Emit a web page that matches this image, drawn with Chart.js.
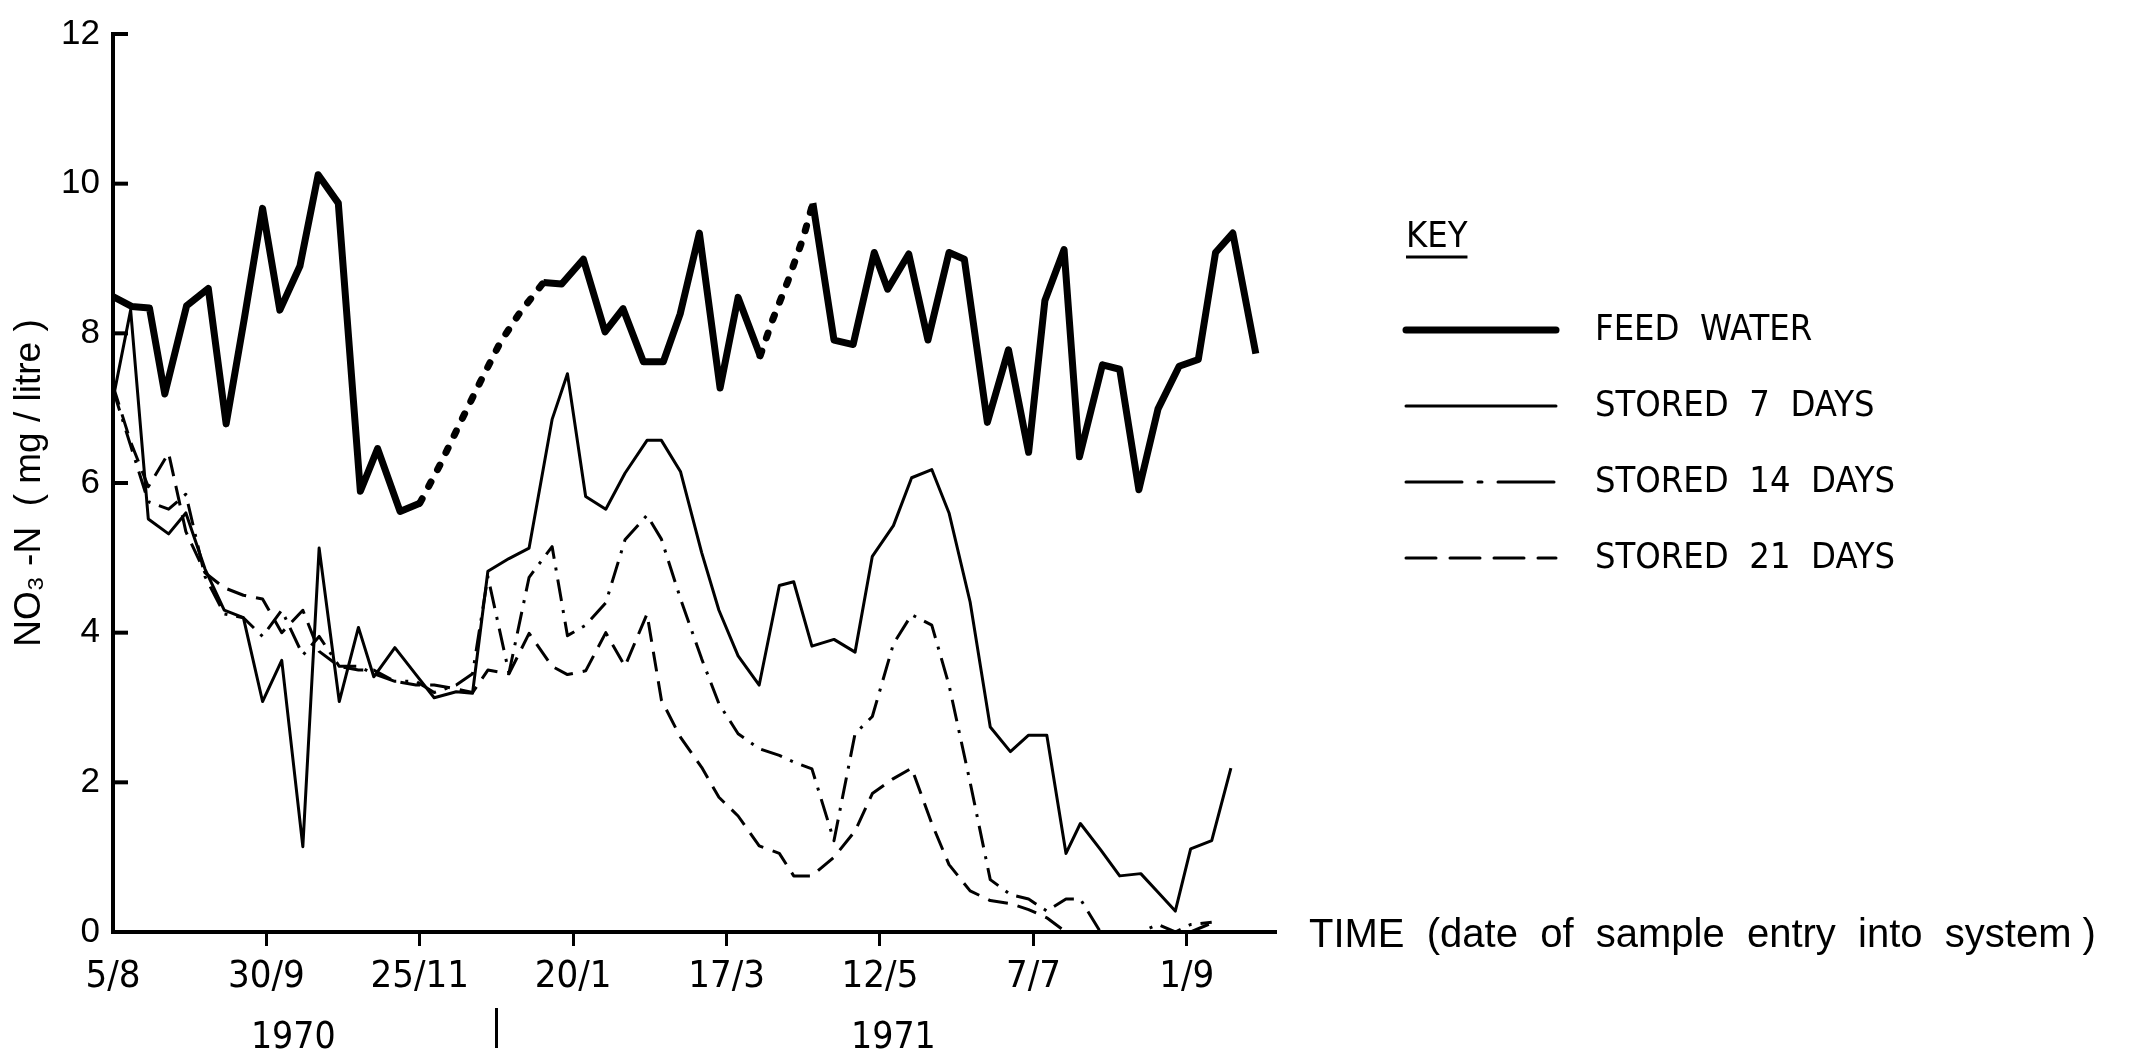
<!DOCTYPE html>
<html>
<head>
<meta charset="utf-8">
<script src="https://cdn.jsdelivr.net/npm/chart.js@4.4.1/dist/chart.umd.min.js"></script>
<style>
  html, body { margin: 0; padding: 0; background: #fff; }
  canvas { display: block; }
</style>
</head>
<body>
<canvas id="nitrateChart" width="2134" height="1055"></canvas>
<script>
// x values are weeks after 5/8/1970 (date of sample entry)
var tickWeeks = [0, 8, 16, 24, 32, 40, 48, 56];
var tickLabels = ['5/8', '30/9', '25/11', '20/1', '17/3', '12/5', '7/7', '1/9'];
var yearLabels = ['1970', '1971'];
var yearWeeks = [9.4, 40.7];
var yearBreakWeek = 20;

// feed water, measured (null = break where the curve is only sketched)
var feedWeeks = [0, 0.97, 1.9, 2.7, 3.84, 4.97, 5.9, 6.85, 7.8, 8.7, 9.75, 10.7, 11.75, 12.9, 13.8, 14.97, 16.0,
  19.0,
  22.45, 23.4, 24.53, 25.66, 26.6, 27.66, 28.7, 29.58, 30.58, 31.66, 32.6, 33.75,
  35.0,
  36.5, 37.6, 38.6, 39.7, 40.4, 41.5, 42.5, 43.6, 44.4, 45.6, 46.7, 47.75, 48.6, 49.6, 50.4, 51.6, 52.5, 53.5,
  54.5, 55.6, 56.6, 57.5, 58.4, 59.6];
var feedValues = [8.49, 8.36, 8.34, 7.19, 8.37, 8.6, 6.79, 8.2, 9.67, 8.31, 8.9, 10.12, 9.74, 5.89, 6.46, 5.62, 5.73,
  null,
  8.68, 8.66, 8.99, 8.02, 8.33, 7.62, 7.62, 8.26, 9.34, 7.27, 8.48, 7.7,
  null,
  9.74, 7.91, 7.85, 9.08, 8.59, 9.06, 7.91, 9.08, 8.99, 6.81, 7.78, 6.41, 8.44, 9.12, 6.35, 7.58, 7.52, 5.91,
  6.99, 7.56, 7.65, 9.08, 9.34, 7.73];

// feed water, dotted (sketched) stretches
var feedGapWeeks = [16.0, 17.05, 18.1, 19.15, 20.2, 21.2, 22.45, 28, 33.75, 34.4, 35.2, 36.0, 36.5];
var feedGapValues = [5.73, 6.24, 6.8, 7.35, 7.88, 8.27, 8.68, null, 7.7, 8.18, 8.7, 9.28, 9.74];

// stored samples share entry dates
var storedWeeks = [0, 0.92, 1.84, 2.9, 3.8, 4.8, 5.8, 6.8, 7.8, 8.8, 9.9, 10.75, 11.8, 12.8, 13.6, 14.7, 15.8,
  16.75, 17.9, 18.75, 19.55, 20.65, 21.7, 22.9, 23.7, 24.65, 25.7, 26.7, 27.85, 28.6, 29.6, 30.7, 31.6, 32.6,
  33.7, 34.75, 35.5, 36.45, 37.6, 38.7, 39.6, 40.7, 41.65, 42.7, 43.6, 44.7, 45.75, 46.8, 47.75, 48.7, 49.7,
  50.45, 51.5, 52.5, 53.6, 54.5, 55.4, 56.2, 57.3, 58.3];
var stored7 = [7.12, 8.31, 5.52, 5.32, 5.6, 4.85, 4.3, 4.2, 3.08, 3.63, 1.14, 5.13, 3.08, 4.07, 3.41, 3.8, 3.44,
  3.13, 3.21, 3.19, 4.82, 4.99, 5.13, 6.85, 7.46, 5.82, 5.65, 6.13, 6.57, 6.57, 6.15, 5.07, 4.3, 3.69,
  3.3, 4.63, 4.68, 3.82, 3.91, 3.74, 5.02, 5.43, 6.07, 6.18, 5.6, 4.41, 2.74, 2.41, 2.63, 2.63, 1.05,
  1.45, 1.1, 0.75, 0.78, 0.53, 0.28, 1.11, 1.22, 2.19];
var stored14 = [7.25, 6.5, 5.75, 5.65, 5.85, 4.75, 4.25, 4.2, 3.95, 4.3, 3.7, 3.95, 3.55, 3.55, 3.45, 3.35, 3.35,
  3.2, 3.3, 3.45, 4.75, 3.46, 4.74, 5.15, 3.96, 4.1, 4.4, 5.24, 5.57, 5.25, 4.45, 3.65, 3.05, 2.65,
  2.45, 2.36, 2.27, 2.18, 1.22, 2.65, 2.88, 3.85, 4.24, 4.1, 3.3, 2.0, 0.7, 0.5, 0.44, 0.28, 0.44,
  0.44, 0, 0, 0, 0.1, 0, 0.1, 0.13, null];
var stored21 = [7.3, 6.55, 5.95, 6.4, 5.35, 4.8, 4.6, 4.5, 4.45, 4.0, 4.3, 3.75, 3.55, 3.5, 3.5, 3.35, 3.3,
  3.3, 3.25, 3.2, 3.5, 3.45, 3.99, 3.55, 3.44, 3.49, 4.0, 3.55, 4.25, 3.1, 2.6, 2.2, 1.8, 1.55,
  1.15, 1.05, 0.75, 0.75, 1.0, 1.35, 1.85, 2.05, 2.19, 1.45, 0.9, 0.55, 0.42, 0.38, 0.3, 0.19, 0,
  0, 0, 0, 0, 0, 0, 0, 0.12, null];

var keyLabels = ['FEED  WATER', 'STORED  7  DAYS', 'STORED  14  DAYS', 'STORED  21  DAYS'];

var narrow = "'Liberation Sans Narrow', 'DejaVu Sans Condensed', 'Liberation Sans', sans-serif";
var plain = "'Liberation Sans', 'DejaVu Sans', sans-serif";

function points(weeks, values) {
  return weeks.map(function (w, i) { return { x: w, y: values[i] }; });
}

function lineSet(label, weeks, values, width, dash) {
  return {
    label: label,
    data: points(weeks, values),
    borderColor: '#000',
    borderWidth: width,
    borderDash: dash,
    borderJoinStyle: 'round',
    pointRadius: 0,
    tension: 0,
    fill: false,
    spanGaps: false
  };
}

var feedDotted = lineSet('feed sketched', feedGapWeeks, feedGapValues, 7, [5, 14]);
feedDotted.borderCapStyle = 'round';

var keyDash = [[], [], [56, 16, 4, 16], [30, 14]];
var keyWidth = [7, 3, 3, 3];

var paperPlugin = {
  id: 'paper',
  afterDraw: function (chart) {
    var ctx = chart.ctx, area = chart.chartArea;
    var xs = chart.scales.x, ys = chart.scales.y;
    ctx.save();
    ctx.strokeStyle = '#000';
    ctx.fillStyle = '#000';
    ctx.lineWidth = 4;

    // inward tick marks on the y axis
    ys.ticks.forEach(function (t) {
      if (t.value === 0) return;
      var py = ys.getPixelForValue(t.value);
      ctx.beginPath();
      ctx.moveTo(area.left, py);
      ctx.lineTo(area.left + 15, py);
      ctx.stroke();
    });

    // axis caption at the end of the time axis
    ctx.font = '40px ' + plain;
    ctx.textAlign = 'left';
    ctx.textBaseline = 'middle';
    ctx.fillText('TIME  (date  of  sample  entry  into  system )', area.right + 34, area.bottom + 4);

    // years under the date labels
    ctx.font = '37px ' + narrow;
    ctx.textAlign = 'center';
    yearLabels.forEach(function (lbl, i) {
      ctx.fillText(lbl, xs.getPixelForValue(yearWeeks[i]), area.bottom + 106);
    });
    ctx.lineWidth = 3;
    var bx = xs.getPixelForValue(yearBreakWeek);
    ctx.beginPath();
    ctx.moveTo(bx, area.bottom + 76);
    ctx.lineTo(bx, area.bottom + 116);
    ctx.stroke();

    // key
    var kx = area.right + 131;
    ctx.textAlign = 'left';
    ctx.font = '36px ' + narrow;
    ctx.fillText('KEY', kx, area.top + 204);
    var kw = ctx.measureText('KEY').width;
    ctx.beginPath();
    ctx.moveTo(kx, area.top + 223);
    ctx.lineTo(kx + kw, area.top + 223);
    ctx.stroke();

    keyLabels.forEach(function (lbl, i) {
      var ry = area.top + 296 + i * 76;
      ctx.save();
      ctx.lineWidth = keyWidth[i];
      ctx.lineCap = 'round';
      ctx.setLineDash(keyDash[i]);
      ctx.beginPath();
      ctx.moveTo(kx, ry);
      ctx.lineTo(kx + 150, ry);
      ctx.stroke();
      ctx.restore();
      ctx.fillText(lbl, kx + 189, ry + 1);
    });
    ctx.restore();
  }
};

var ctx = document.getElementById('nitrateChart').getContext('2d');
var nitrateChart = new Chart(ctx, {
  type: 'line',
  data: {
    datasets: [
      lineSet('FEED WATER', feedWeeks, feedValues, 7, []),
      feedDotted,
      lineSet('STORED 7 DAYS', storedWeeks, stored7, 3, []),
      lineSet('STORED 14 DAYS', storedWeeks, stored14, 3, [22, 9, 3, 9]),
      lineSet('STORED 21 DAYS', storedWeeks, stored21, 3, [20, 10])
    ]
  },
  options: {
    responsive: false,
    animation: false,
    layout: { padding: { top: 24, right: 859, left: 0, bottom: 0 } },
    plugins: {
      legend: { display: false },
      tooltip: { enabled: false }
    },
    scales: {
      x: {
        type: 'linear',
        min: 0,
        max: 60.6,
        afterBuildTicks: function (scale) {
          scale.ticks = tickWeeks.map(function (w) { return { value: w }; });
        },
        afterFit: function (scale) { scale.height = 123; },
        ticks: {
          callback: function (value, index) { return tickLabels[index]; },
          font: { family: narrow, size: 38 },
          color: '#000',
          padding: 8,
          maxRotation: 0,
          autoSkip: false
        },
        grid: {
          display: true,
          drawOnChartArea: false,
          drawTicks: true,
          tickLength: 14,
          lineWidth: 3,
          color: function (c) { return c.index === 0 ? 'rgba(0,0,0,0)' : '#000'; }
        },
        border: { display: true, color: '#000', width: 4 }
      },
      y: {
        min: 0,
        max: 12,
        afterFit: function (scale) { scale.width = 113; },
        ticks: {
          stepSize: 2,
          font: { family: plain, size: 35 },
          color: '#000',
          padding: 13
        },
        grid: { display: true, drawOnChartArea: false, drawTicks: false, color: '#000' },
        border: { display: true, color: '#000', width: 4 },
        title: {
          display: true,
          text: 'NO\u2083 -N  ( mg / litre )',
          font: { family: plain, size: 37 },
          color: '#000',
          padding: { top: 8, bottom: 0 }
        }
      }
    }
  },
  plugins: [paperPlugin]
});
</script>
</body>
</html>
